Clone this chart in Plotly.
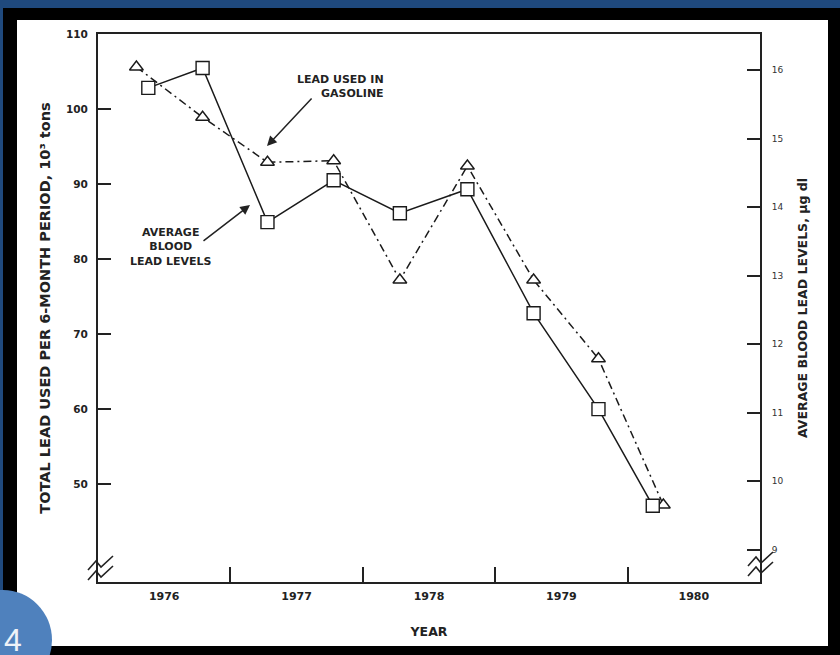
import plotly.graph_objects as go

# ---- data ----
gas_x = [1976.29, 1976.79, 1977.28, 1977.78, 1978.28, 1978.79, 1979.29, 1979.78, 1980.27]
gas_lead = [105.6, 98.9, 92.9, 93.1, 77.2, 92.4, 77.2, 66.7, 47.2]        # 10^3 tons (left axis)
blood_x = [1976.38, 1976.79, 1977.28, 1977.78, 1978.28, 1978.79, 1979.29, 1979.78, 1980.19]
blood_lead = [15.74, 16.03, 13.78, 14.39, 13.91, 14.26, 12.45, 11.05, 9.64]  # ug/dl (right axis)
year_labels = ["1976", "1977", "1978", "1979", "1980"]
year_label_pos = [1976.5, 1977.5, 1978.5, 1979.5, 1980.5]
year_bounds = [1977, 1978, 1979, 1980]
left_ticks = [50, 60, 70, 80, 90, 100, 110]
right_ticks = [9, 10, 11, 12, 13, 14, 15, 16]

W, H = 840, 655
ML, MR, MT, MB = 98, 80, 34, 73
PW, PH = W - ML - MR, H - MT - MB

def px(x):
    return (x - ML) / PW

def py(y):
    return (H - MB - y) / PH

FONT = "DejaVu Sans, Liberation Sans, Arial, sans-serif"
INK = "#222222"

fig = go.Figure()
fig.add_trace(go.Scatter(
    x=gas_x, y=gas_lead, mode="lines+markers", name="Lead used in gasoline",
    line=dict(color="#1a1a1a", width=1.5, dash="8px,4px,2px,4px"),
    marker=dict(symbol="triangle-up", size=12, color="white",
                line=dict(color="#1a1a1a", width=1.4)),
    yaxis="y", cliponaxis=False))
fig.add_trace(go.Scatter(
    x=blood_x, y=blood_lead, mode="lines+markers", name="Average blood lead levels",
    line=dict(color="#1a1a1a", width=1.5),
    marker=dict(symbol="square", size=13, color="white",
                line=dict(color="#1a1a1a", width=1.4)),
    yaxis="y2", cliponaxis=False))

shapes = []
# slide background pieces
shapes.append(dict(type="rect", xref="paper", yref="paper", layer="below",
                   x0=px(3), x1=px(840), y0=py(655), y1=py(8),
                   fillcolor="black", line=dict(width=0)))
shapes.append(dict(type="rect", xref="paper", yref="paper", layer="below",
                   x0=px(17), x1=px(828), y0=py(646), y1=py(20),
                   fillcolor="white", line=dict(width=0)))
shapes.append(dict(type="circle", xref="paper", yref="paper", layer="above",
                   x0=px(-46), x1=px(52), y0=py(690), y1=py(590),
                   fillcolor="#4F81BD", line=dict(width=0)))

def zig(points):
    s = "M " + " L ".join(f"{px(a):.5f},{py(b):.5f}" for a, b in points)
    return dict(type="path", xref="paper", yref="paper", path=s,
                line=dict(color="#222", width=1.6), layer="above")

# axis break marks
for dy in (0, 10):
    shapes.append(zig([(88, 570 + dy), (96, 561 + dy), (101, 567 + dy), (113, 556 + dy)]))
    shapes.append(zig([(748, 566 + dy), (756, 557 + dy), (761, 563 + dy), (773, 552 + dy)]))

annotations = [
    dict(xref="paper", yref="paper", x=px(386), y=py(86), text="LEAD USED IN<br>GASOLINE",
         showarrow=False, xanchor="right", yanchor="middle", align="right",
         font=dict(family=FONT, size=11, color=INK, weight="bold")),
    dict(xref="paper", yref="paper", x=px(267), y=py(146), ax=46, ay=-49, text="",
         showarrow=True, arrowhead=2, arrowsize=1.3, arrowwidth=1.5, arrowcolor="#222"),
    dict(xref="paper", yref="paper", x=px(171), y=py(247), text="AVERAGE<br>BLOOD<br>LEAD LEVELS",
         showarrow=False, xanchor="center", yanchor="middle", align="center",
         font=dict(family=FONT, size=11, color=INK, weight="bold")),
    dict(xref="paper", yref="paper", x=px(250), y=py(205), ax=-48, ay=37, text="",
         showarrow=True, arrowhead=2, arrowsize=1.3, arrowwidth=1.5, arrowcolor="#222"),
    dict(xref="paper", yref="paper", x=px(13), y=py(620), text="4", showarrow=False,
         xanchor="center", yanchor="top",
         font=dict(family="Liberation Sans, Arial", size=32, color="#eef2f8")),
]

fig.update_layout(
    width=W, height=H, margin=dict(l=ML, r=MR, t=MT, b=MB, autoexpand=False),
    paper_bgcolor="#1F497D", plot_bgcolor="rgba(0,0,0,0)",
    showlegend=False, shapes=shapes, annotations=annotations,
    font=dict(family=FONT, color=INK),
    xaxis=dict(range=[1976, 1981], tickmode="array", tickvals=year_label_pos, ticktext=year_labels,
               ticks="", showgrid=False, zeroline=False, showline=True, linecolor="#222",
               linewidth=2, mirror=True,
               minor=dict(tickmode="array", tickvals=year_bounds, ticks="inside", ticklen=15,
                          tickwidth=1.8, tickcolor="#222", showgrid=False),
               tickfont=dict(family=FONT, size=11, color=INK, weight="bold"),
               ticklabelstandoff=3,
               title=dict(text="YEAR", standoff=25,
                          font=dict(family=FONT, size=12.5, color=INK, weight="bold")),
               automargin=False),
    yaxis=dict(range=[36.93, 110], tickmode="array", tickvals=left_ticks,
               ticks="inside", ticklen=13, tickwidth=1.8, tickcolor="#222",
               showgrid=False, zeroline=False, showline=True, linecolor="#222", linewidth=2,
               tickfont=dict(family=FONT, size=10.5, color=INK, weight="bold"),
               ticklabelstandoff=6,
               title=dict(text="TOTAL LEAD USED PER 6-MONTH PERIOD, 10³ tons", standoff=12,
                          font=dict(family=FONT, size=14.5, color=INK, weight="bold")),
               automargin=False),
    yaxis2=dict(range=[8.526, 16.526], overlaying="y", side="right", tickmode="array",
                tickvals=right_ticks, ticks="inside", ticklen=13, tickwidth=1.8, tickcolor="#222",
                showgrid=False, zeroline=False, showline=True, linecolor="#222", linewidth=2,
                tickfont=dict(family=FONT, size=9, color="#333"),
                ticklabelstandoff=8,
                title=dict(text="AVERAGE BLOOD LEAD LEVELS, µg dl", standoff=16,
                           font=dict(family=FONT, size=12.5, color=INK, weight="bold")),
                automargin=False),
)

fig.write_html("out.html", config={"displayModeBar": False},
               post_script="document.body.style.margin='0px';")
